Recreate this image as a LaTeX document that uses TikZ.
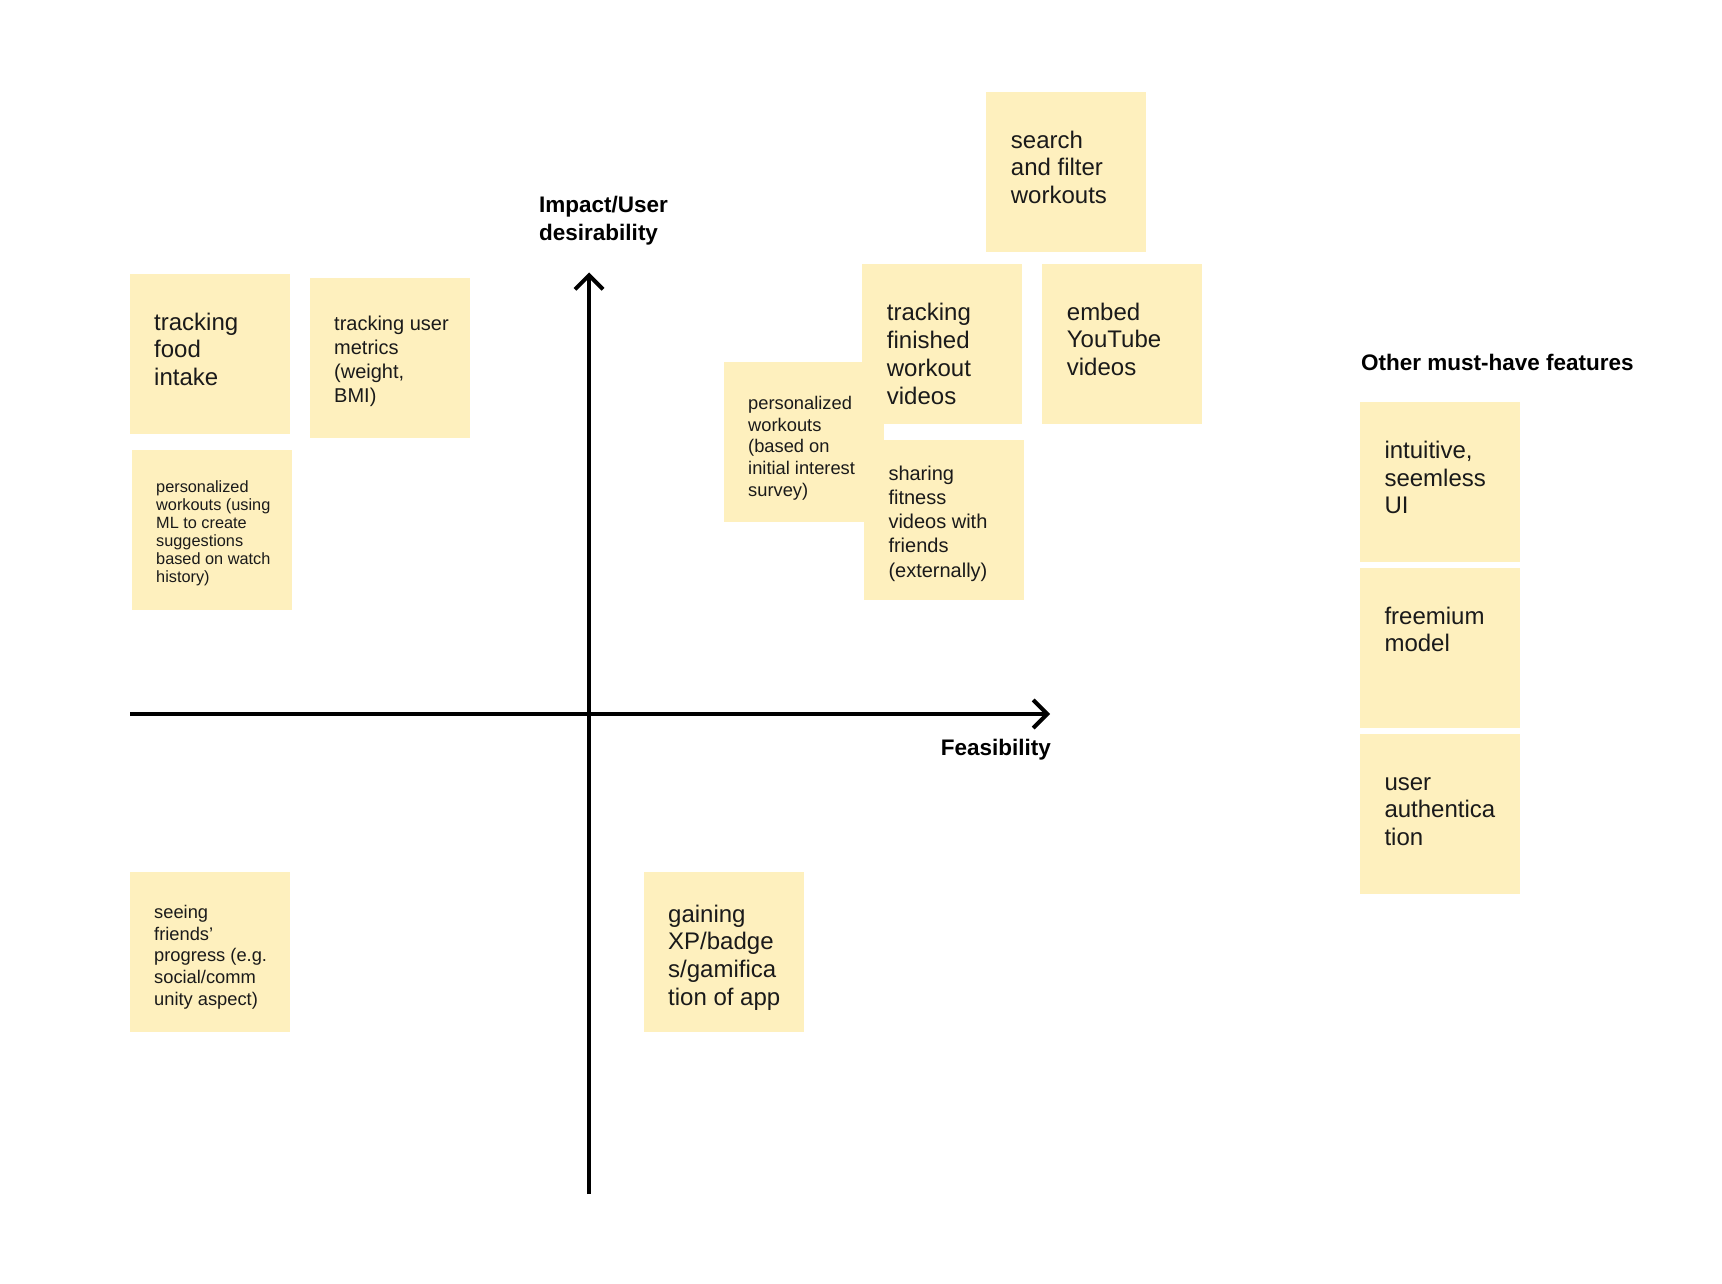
\documentclass[tikz,border=0pt]{standalone}
\usepackage{fontspec}
\setmainfont{Liberation Sans}
\usetikzlibrary{calc,arrows.meta}
\definecolor{notefill}{HTML}{FEF0BE}
\definecolor{ink}{HTML}{1A1A1A}
\newcommand{\firstln}{\rule{0pt}{20pt}}
\tikzset{
  note/.style={fill=notefill, draw=none, minimum width=160pt, minimum height=160pt, inner sep=0pt, anchor=north west},
  txt/.style={anchor=north west, inner sep=0pt, align=left, text=ink},
  big/.style={txt, font=\fontsize{24}{27.7}\selectfont},
  mid/.style={txt, font=\fontsize{20}{24.2}\selectfont},
  sml/.style={txt, font=\fontsize{18.3}{21.8}\selectfont},
  tiny/.style={txt, font=\fontsize{16.3}{18}\selectfont},
  lbl/.style={inner sep=0pt, text=black, font=\bfseries\fontsize{22.5}{27.7}\selectfont, align=left},
  axis/.style={line width=4pt, draw=black, -{Straight Barb[length=14pt, width=28pt, line width=4pt]}}
}
\begin{document}
\begin{tikzpicture}[x=1pt, y=-1pt]
\useasboundingbox[fill=white] (0,0) rectangle (1722,1284);

% sticky notes (boxes)
\node[note] (food)   at (130,274) {};
\node[note] (metric) at (310,278) {};
\node[note] (ml)     at (132,450) {};
\node[note] (seeing) at (130,872) {};
\node[note] (gain)   at (644,872) {};
\node[note] (survey) at (724,362) {};
\node[note] (search) at (986,92) {};
\node[note] (finish) at (862,264) {};
\node[note] (embed)  at (1042,264) {};
\node[note] (share)  at (864,440) {};
\node[note] (intui)  at (1360,402) {};
\node[note] (free)   at (1360,568) {};
\node[note] (auth)   at (1360,734) {};

% texts
\node[big]  (tfood)   at ($(food.north west)+(24,36)$)   {\firstln tracking\\food\\intake};
\node[mid]  (tmetric) at ($(metric.north west)+(24,32)$) {\firstln tracking user\\metrics\\(weight,\\BMI)};
\node[tiny] (tml)     at ($(ml.north west)+(24,22)$)     {\firstln personalized\\workouts (using\\ML to create\\suggestions\\based on watch\\history)};
\node[sml]  (tseeing) at ($(seeing.north west)+(24,26)$) {\firstln seeing\\friends’\\progress (e.g.\\social/comm\\unity aspect)};
\node[big]  (tgain)   at ($(gain.north west)+(24,30)$)   {\firstln gaining\\XP/badge\\s/gamifica\\tion of app};
\node[sml]  (tsurvey) at ($(survey.north west)+(24,27)$) {\firstln personalized\\workouts\\(based on\\initial interest\\survey)};
\node[big]  (tsearch) at ($(search.north west)+(24.7,36)$) {\firstln search\\and filter\\workouts};
\node[big]  (tfinish) at ($(finish.north west)+(24.7,36.7)$) {\firstln tracking\\finished\\workout\\videos};
\node[big]  (tembed)  at ($(embed.north west)+(24.7,36)$)  {\firstln embed\\YouTube\\videos};
\node[mid]  (tshare)  at ($(share.north west)+(24.3,20)$)  {\firstln sharing\\fitness\\videos with\\friends\\(externally)};
\node[big]  (tintui)  at ($(intui.north west)+(24.3,36.3)$) {\firstln intuitive,\\seemless\\UI};
\node[big]  (tfree)   at ($(free.north west)+(24.3,36)$)   {\firstln freemium\\model};
\node[big]  (tauth)   at ($(auth.north west)+(24.3,36)$)   {\firstln user\\authentica\\tion};

% axes
\coordinate (vb) at (589,1194);
\coordinate (vt) at (589,272.5);
\coordinate (hl) at (130,714);
\coordinate (hr) at (1050,714);
\draw[axis] (vb) -- (vt);
\draw[axis] (hl) -- (hr);

% labels
\node[lbl, anchor=north west] (impact) at (539,192.3) {\firstln Impact/User\\desirability};
\node[lbl, anchor=base east] (feas) at (1051,755) {Feasibility};
\node[lbl, anchor=base west] (other) at (1361,370.7) {Other must-have features};
\end{tikzpicture}
\end{document}
